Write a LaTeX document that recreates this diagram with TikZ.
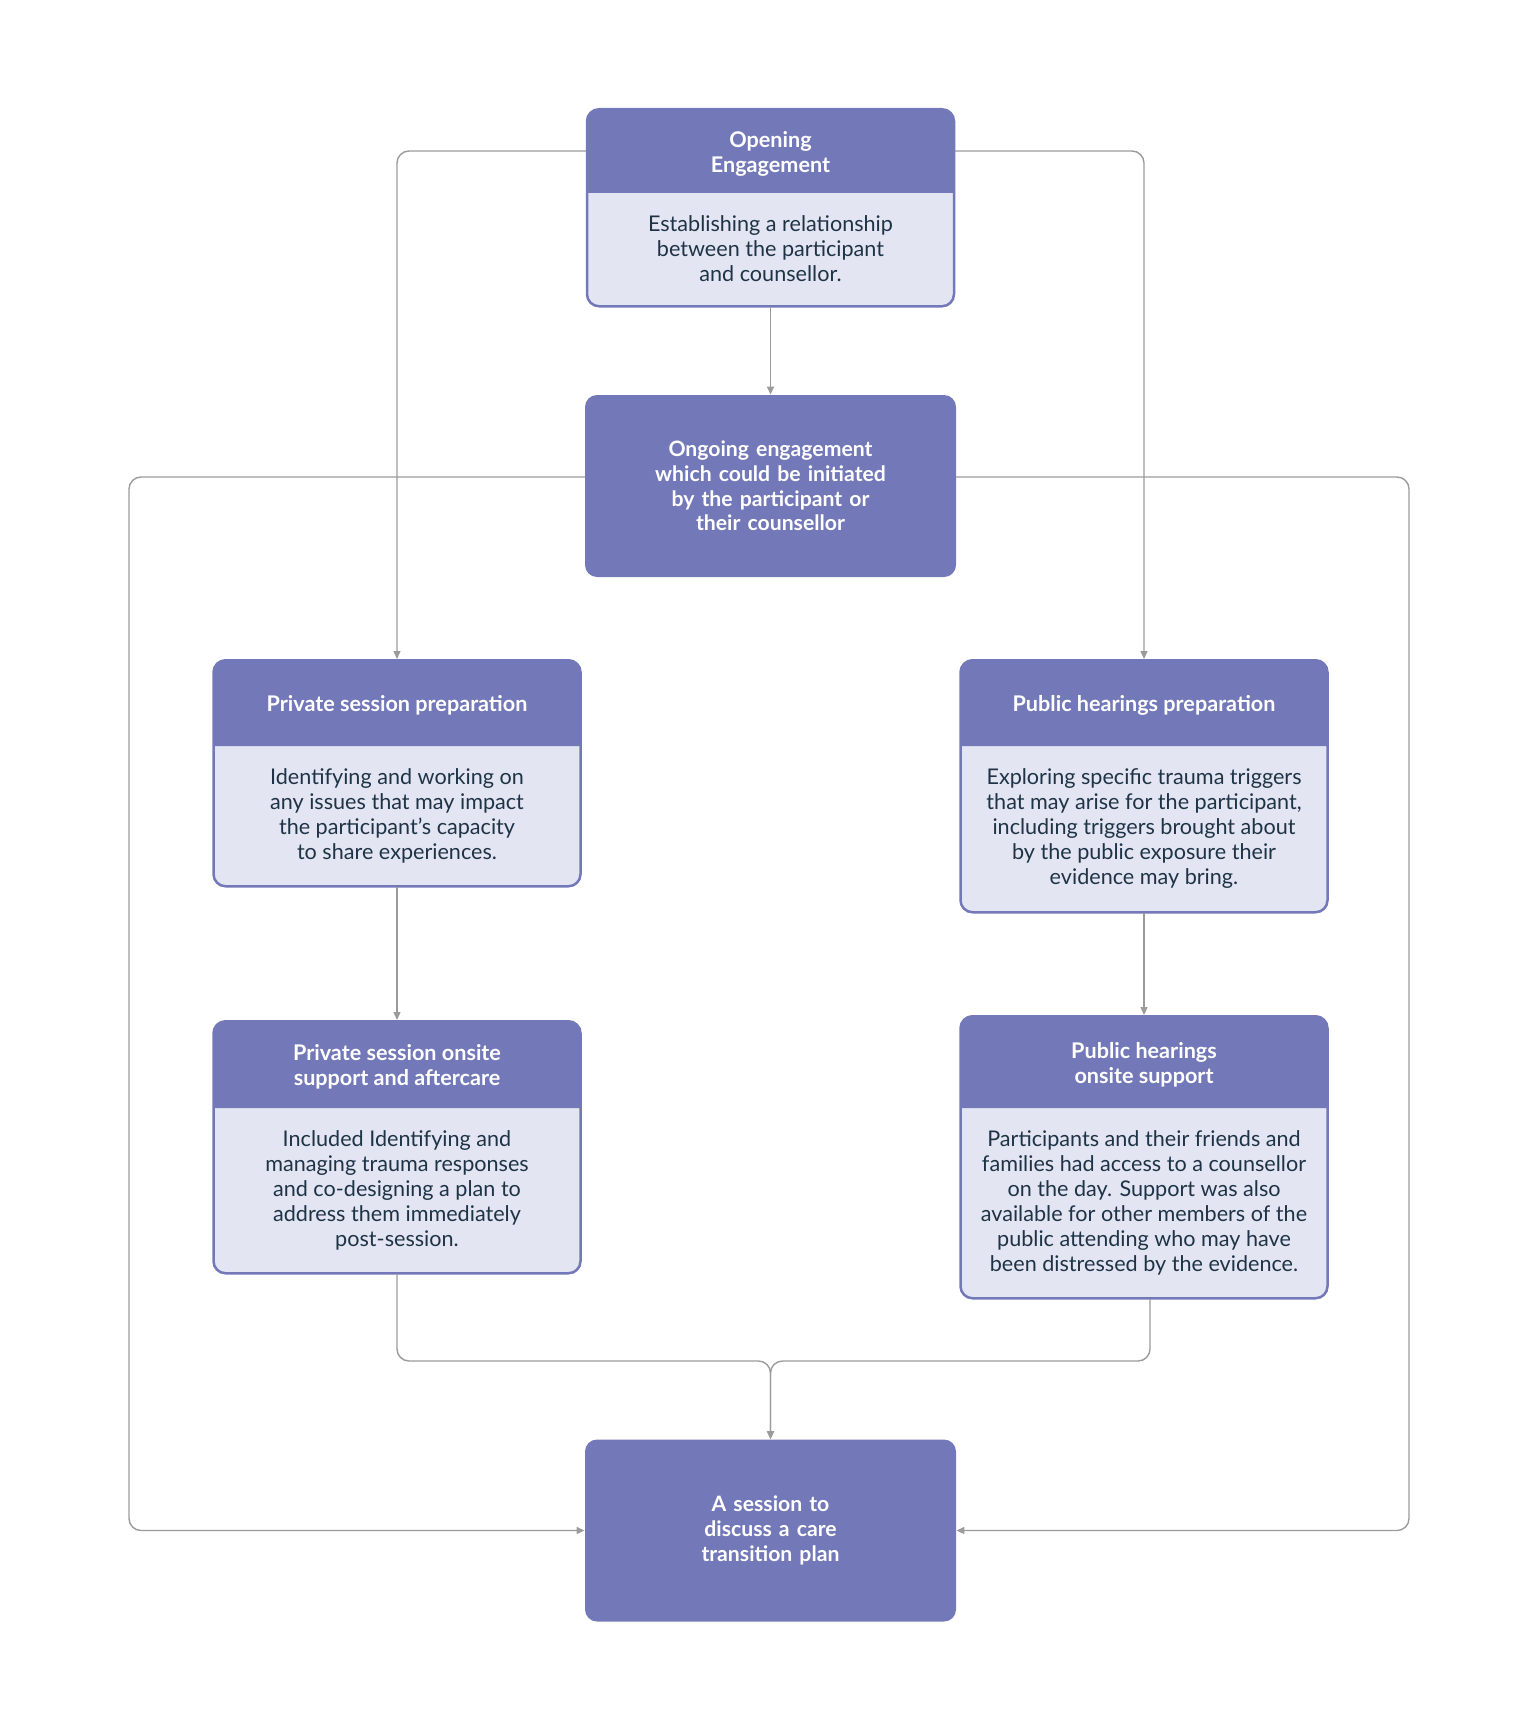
\documentclass[tikz,border=0pt]{standalone}
\usepackage{fontspec}
\setmainfont{Lato}
\usetikzlibrary{arrows.meta,shapes.multipart}

\definecolor{headfill}{HTML}{7378B8}
\definecolor{bodyfill}{HTML}{E4E5F3}
\definecolor{inktext}{HTML}{1E3446}
\definecolor{linegray}{HTML}{9B9B9B}

\newcommand{\headpart}[2]{\parbox[c][#1][c]{183.5pt}{\vspace*{3.2pt}\centering\bfseries\color{white}#2}}
\newcommand{\bodypart}[2]{\parbox[c][#1][c]{183.5pt}{\centering\color{inktext}#2}}

\tikzset{
  stage/.style={rectangle split, rectangle split parts=2, rectangle split part fill={headfill,bodyfill},
    draw=headfill, line width=1.25pt, rounded corners=6pt, inner sep=0pt, anchor=north,
    font=\fontsize{10.8pt}{12.5pt}\selectfont},
  solidstage/.style={rectangle, fill=headfill, rounded corners=6pt, minimum width=185.5pt, minimum height=91pt,
    text width=160pt, align=center, text=white, font=\fontsize{10.6pt}{12.4pt}\selectfont\bfseries},
  conn/.style={draw=linegray, line width=0.7pt, rounded corners=6pt, -{Triangle[length=4pt,width=3.5pt]}},
}

\begin{document}
\begin{tikzpicture}[line cap=round,line join=round,x=0.5pt,y=-0.5pt]
  \useasboundingbox (0,0) rectangle (1536,1728);

  % boxes
  \node[stage] (open) at (770.5,108) {\headpart{40pt}{Opening\\Engagement}
    \nodepart{two}\bodypart{56pt}{Establishing a relationship\\between the participant\\and counsellor.}};
  \node[solidstage] (ongoing) at (770.5,486) {Ongoing engagement\\which could be initiated\\by the participant or\\their counsellor};
  \node[stage] (privprep) at (397,659) {\headpart{41pt}{Private session preparation}
    \nodepart{two}\bodypart{69.5pt}{Identifying and working on\\any issues that may impact\\the participant's capacity\\to share experiences.}};
  \node[stage] (pubprep) at (1144,659) {\headpart{41pt}{Public hearings preparation}
    \nodepart{two}\bodypart{82.5pt}{Exploring specific trauma triggers\\that may arise for the participant,\\including triggers brought about\\by the public exposure their\\evidence may bring.}};
  \node[stage] (privsite) at (397,1020) {\headpart{41.5pt}{Private session onsite\\support and aftercare}
    \nodepart{two}\bodypart{82pt}{Included Identifying and\\managing trauma responses\\and co-designing a plan to\\address them immediately\\post-session.}};
  \node[stage] (pubsite) at (1144,1015) {\headpart{44pt}{Public hearings\\onsite support}
    \nodepart{two}\bodypart{94.5pt}{Participants and their friends and\\families had access to a counsellor\\on the day. Support was also\\available for other members of the\\public attending who may have\\been distressed by the evidence.}};
  \node[solidstage] (final) at (770.5,1530.5) {A session to\\discuss a care\\transition plan};

  % rails
  \coordinate (leftrail) at (129,477);
  \coordinate (rightrail) at (1409,477);
  \coordinate (merge) at (770.5,1361);

  % connectors
  \draw[conn] (open.south) -- (ongoing.north);
  \draw[conn] ([yshift=-21.5pt]open.north west) -| (privprep.north);
  \draw[conn] ([yshift=-21.5pt]open.north east) -| (pubprep.north);
  \draw[conn] ([yshift=4.5pt]ongoing.west) -- (leftrail) |- (final.west);
  \draw[conn] ([yshift=4.5pt]ongoing.east) -- (rightrail) |- (final.east);
  \draw[conn] (privprep.south) -- (privsite.north);
  \draw[conn] (pubprep.south) -- (pubsite.north);
  \draw[conn] (privsite.south) |- (merge) -- (final.north);
  \draw[conn] ([xshift=3pt]pubsite.south) |- (merge) -- (final.north);
\end{tikzpicture}
\end{document}
